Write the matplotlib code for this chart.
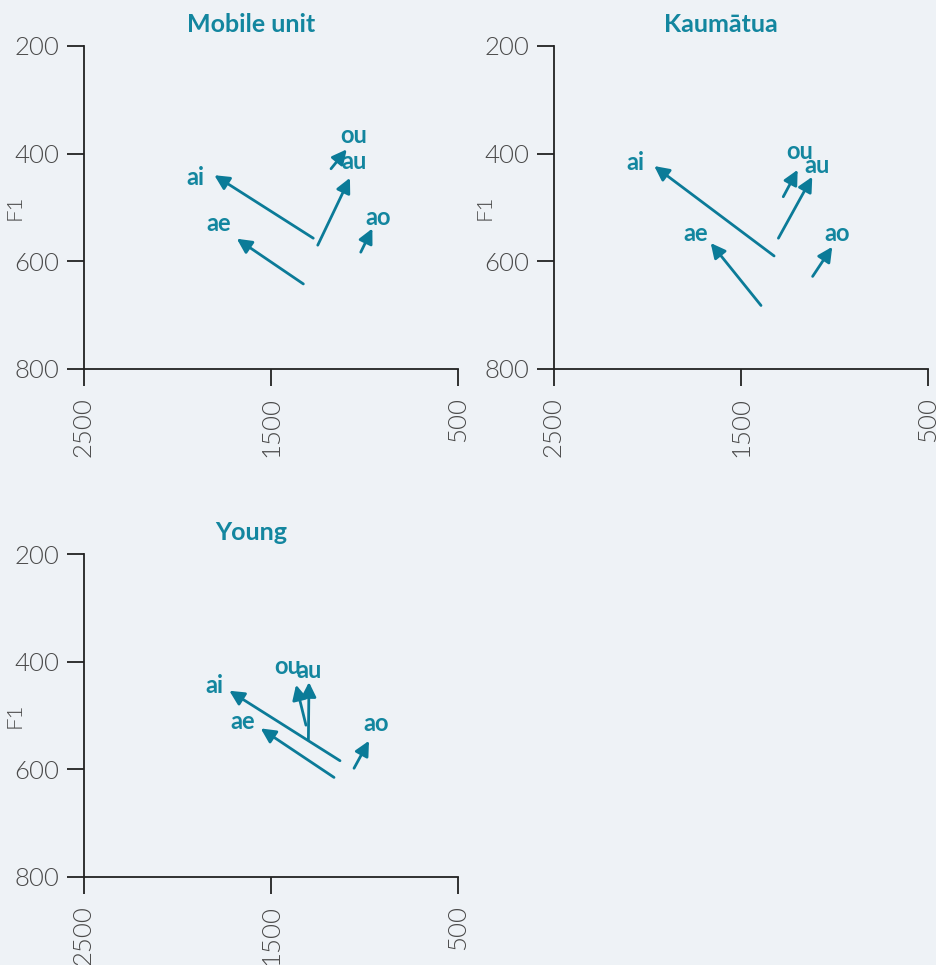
import matplotlib
matplotlib.use("Agg")
import matplotlib.pyplot as plt

# ---------------- data (F2 / F1 in Hz) ----------------
vowels = ["ai", "ae", "au", "ou", "ao"]

mobile_f2_start = [1274, 1327, 1250, 1179, 1020]
mobile_f1_start = [557, 642, 570, 428, 583]
mobile_f2_end = [1803, 1683, 1078, 1095, 958]
mobile_f1_end = [440, 558, 445, 392, 539]

kaum_f2_start = [1323, 1393, 1300, 1274, 1117]
kaum_f1_start = [590, 682, 557, 480, 628]
kaum_f2_end = [1964, 1662, 1119, 1197, 1012]
kaum_f1_end = [423, 566, 443, 430, 573]

young_f2_start = [1131, 1163, 1300, 1313, 1056]
young_f1_start = [584, 615, 545, 518, 598]
young_f2_end = [1723, 1555, 1297, 1366, 976]
young_f1_end = [454, 524, 438, 443, 547]

panel_titles = ["Mobile unit", "Kaumātua", "Young"]
x_ticks = [2500, 1500, 500]
y_ticks = [200, 400, 600, 800]

# label offsets from arrow head (pixels, x right / y up)
label_offsets = [
    [(-19, -2), (-18, 15), (4, 16), (7, 14), (6, 11)],
    [(-19, 4), (-15, 10), (5, 11), (2, 18), (5, 13)],
    [(-15, 5), (-18, 7), (0, 12), (-8, 18), (7, 17)],
]

panels = [
    (mobile_f2_start, mobile_f1_start, mobile_f2_end, mobile_f1_end),
    (kaum_f2_start, kaum_f1_start, kaum_f2_end, kaum_f1_end),
    (young_f2_start, young_f1_start, young_f2_end, young_f1_end),
]

# ---------------- style ----------------
BG = "#eef2f6"
ARROW = "#0b7b98"
LABEL = "#13869f"
TICK_COL = "#4a4a4a"

plt.rcParams["font.family"] = ["Lato", "DejaVu Sans"]

W, H = 936, 965
fig = plt.figure(figsize=(W / 100, H / 100), dpi=100, facecolor=BG)

ax_px = [(84, 46, 458, 369), (554, 46, 928, 369), (84, 554, 458, 877)]

for i, (x0, y0, x1, y1) in enumerate(ax_px):
    ax = fig.add_axes([x0 / W, 1 - y1 / H, (x1 - x0) / W, (y1 - y0) / H])
    ax.set_facecolor(BG)
    ax.set_xlim(2500, 500)
    ax.set_ylim(800, 200)
    for s in ["top", "right"]:
        ax.spines[s].set_visible(False)
    for s in ["left", "bottom"]:
        ax.spines[s].set_linewidth(1.3)
        ax.spines[s].set_color("#222222")
    ax.set_xticks(x_ticks)
    ax.set_yticks(y_ticks)
    ax.set_xticklabels([str(t) for t in x_ticks], rotation=90)
    ax.tick_params(axis="both", length=12, width=1.3, color="#222222",
                   labelsize=18.5, labelcolor=TICK_COL)
    ax.tick_params(axis="y", pad=6)
    ax.tick_params(axis="x", pad=8)
    for lab in ax.get_xticklabels() + ax.get_yticklabels():
        lab.set_fontweight(300)
    ax.set_ylabel("F1", fontsize=16, color=TICK_COL, fontweight=300)
    ax.yaxis.set_label_coords(-0.160, 0.5)

    f2s, f1s, f2e, f1e = panels[i]
    for j, v in enumerate(vowels):
        ax.annotate("", xy=(f2e[j], f1e[j]), xytext=(f2s[j], f1s[j]),
                    arrowprops=dict(arrowstyle="-|>", color=ARROW, lw=2.0,
                                    mutation_scale=22, shrinkA=0, shrinkB=0))
        dx, dy = label_offsets[i][j]
        ax.annotate(v, xy=(f2e[j], f1e[j]), xytext=(dx, dy),
                    textcoords="offset pixels", ha="center", va="center",
                    fontsize=17, fontweight="bold", color=LABEL)

    ax.text(0.5 - 20 / (x1 - x0), 1 + 21 / (y1 - y0), panel_titles[i],
            transform=ax.transAxes, ha="center", va="center",
            fontsize=18, fontweight="bold", color=LABEL)

fig.savefig("out.png", dpi=100, facecolor=BG)
